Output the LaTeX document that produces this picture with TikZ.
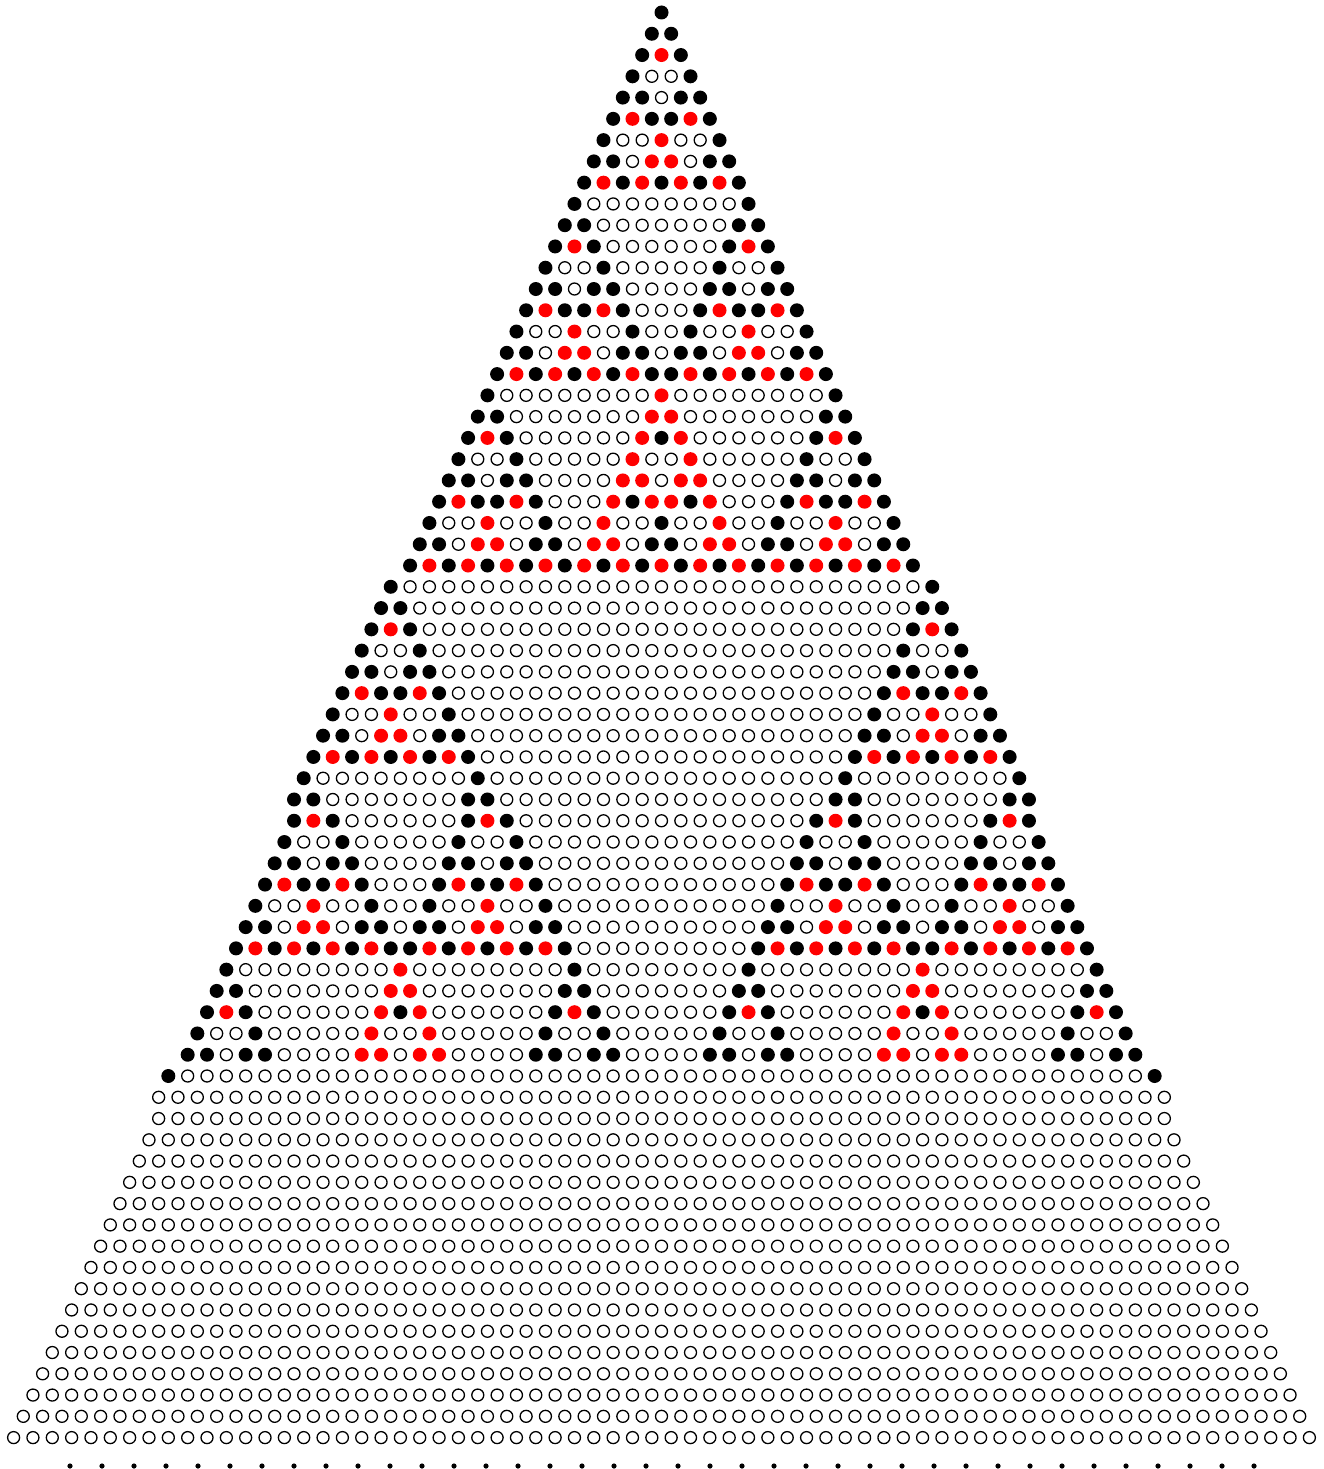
\documentclass[tikz,border=0pt]{standalone}
\definecolor{dotred}{RGB}{255,0,0}
\tikzset{
  onedot/.style={fill=black},
  twodot/.style={fill=dotred},
  zerodot/.style={draw=black, line width=1.3pt, fill=white},
  enddot/.style={fill=black},
}
% rows drawn with one extra white circle in the middle
\def\iswide#1{0\ifnum#1>26 \ifnum#1<38 1\fi\fi\ifnum#1>49 \ifnum#1<52 1\fi\fi}
\begin{document}
\begin{tikzpicture}[x=1pt,y=-1pt]
\useasboundingbox (0,0) rectangle (1323,1469);
\def\sp{19.34}
\foreach \n in {0,...,67}{
  \pgfmathsetmacro\yy{12.5+\n*21.27}%
  \ifnum\iswide\n>0 \def\wd{1}\else\def\wd{0}\fi
  \foreach \k in {0,...,\n}{
    \ifnum\k=0 \gdef\pcval{1}\else
      \ifnum\k=\n \gdef\pcval{1}\else
        \xdef\pcval{\the\numexpr \csname pcv\the\numexpr\n-1\relax x\the\numexpr\k-1\relax\endcsname + \csname pcv\the\numexpr\n-1\relax x\k\endcsname\relax}%
        \ifnum\pcval>2 \xdef\pcval{\the\numexpr\pcval-3\relax}\fi
      \fi
    \fi
    \expandafter\xdef\csname pcv\n x\k\endcsname{\pcval}%
    \ifnum\n<50 \edef\code{\pcval}\else
      \def\code{0}%
      \ifnum\n=50 \ifnum\k=0 \def\code{1}\fi \ifnum\k=50 \def\code{1}\fi\fi
    \fi
    \pgfmathsetmacro\xx{661.5+(\k-0.5*\n)*\sp}%
    \ifnum\wd=1
      \ifnum\numexpr2*\k\relax<\n \pgfmathsetmacro\xx{\xx-0.5*\sp}\fi
      \ifnum\numexpr2*\k\relax>\n \pgfmathsetmacro\xx{\xx+0.5*\sp}\fi
      \ifnum\numexpr2*\k\relax=\n
        \path[zerodot] (661.5-0.5*\sp,\yy) circle[radius=6];
        \pgfmathsetmacro\xx{\xx+0.5*\sp}%
      \fi
    \fi
    \ifcase\code
      \path[zerodot] (\xx,\yy) circle[radius=6];
    \or
      \path[onedot] (\xx,\yy) circle[radius=7];
    \or
      \path[twodot] (\xx,\yy) circle[radius=7];
    \fi
  }
  \ifnum\wd=1
    \ifodd\n
      \path[zerodot] (661.5,\yy) circle[radius=6];
    \fi
  \fi
}
\foreach \i in {0,...,37}{
  \path[enddot] (70+32*\i,1466) circle[radius=2.6];
}
\end{tikzpicture}
\end{document}
